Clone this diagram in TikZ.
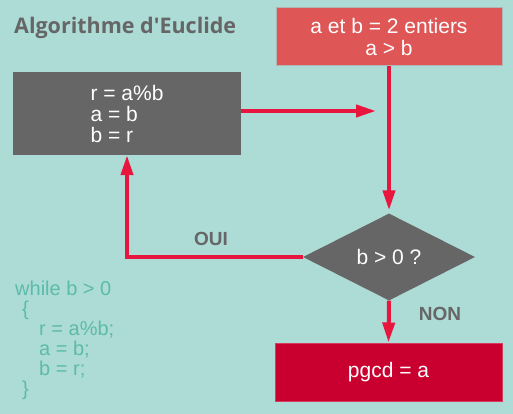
\documentclass[tikz,border=0pt]{standalone}
\usepackage{fontspec}
\setmainfont{Liberation Sans}
\newfontfamily\titlefont{Open Sans}
\usetikzlibrary{shapes.geometric,arrows.meta}
\definecolor{bgteal}{RGB}{173,219,214}
\definecolor{initred}{RGB}{222,86,86}
\definecolor{initline}{RGB}{175,180,180}
\definecolor{endred}{RGB}{201,0,47}
\definecolor{endline}{RGB}{215,60,95}
\definecolor{arrowred}{RGB}{232,22,63}
\definecolor{boxgray}{RGB}{102,102,102}
\definecolor{codeteal}{RGB}{92,187,169}
\tikzset{
  box/.style={rectangle, inner sep=0pt, text=white, align=center, font=\fontsize{21}{22}\selectfont},
  flow/.style={draw=arrowred, line width=4pt, -{Triangle[length=20pt,width=12pt]}},
  answer/.style={text=boxgray, inner sep=0pt, font=\fontsize{19}{19}\selectfont\bfseries}
}
\begin{document}
\begin{tikzpicture}[x=1pt, y=-1pt]
  \fill[bgteal] (0,0) rectangle (513,414);
  \node[anchor=base west, inner sep=0pt, text=boxgray, font=\titlefont\fontsize{21.5}{21.5}\selectfont\bfseries] (title) at (14,34) {Algorithme d'Euclide};
  \node[box, fill=initred, draw=initline, line width=1pt, minimum width=226pt, minimum height=58pt] (init) at (389,37) {a et b = 2 entiers\\a > b};
  \node[box, fill=boxgray, align=left, minimum width=228pt, minimum height=83pt, font=\fontsize{21}{21}\selectfont] (calc) at (127,113.5) {r = a\%b\\a = b\\b = r};
  \node[shape=diamond, fill=boxgray, text=white, inner sep=0pt, aspect=2, minimum width=172pt, minimum height=87pt, font=\fontsize{21}{21}\selectfont] (test) at (389,257) {b > 0 ?};
  \node[box, fill=endred, draw=endline, line width=1pt, minimum width=227pt, minimum height=58pt] (end) at (388.5,372) {pgcd = a};
  \coordinate (merge) at (376,111);
  \draw[flow] (calc.east |- merge) -- (merge);
  \draw[flow, shorten >=3pt] (init.south) -- (test.north);
  \draw[flow] (test.south) -- (end.north);
  \draw[flow] (test.west) -- (calc.south |- test.west) -- (calc.south);
  \node[answer] (yes) at (211,239) {OUI};
  \node[answer] (no) at (440,314) {NON};
  \node[anchor=north west, inner sep=0pt, text=codeteal, align=left, font=\fontsize{20}{20}\selectfont] (code) at (15,281) {while b > 0\\\hspace*{7pt}\{\\\hspace*{24pt}r = a\%b;\\\hspace*{24pt}a = b;\\\hspace*{24pt}b = r;\\\hspace*{7pt}\}};
\end{tikzpicture}
\end{document}
